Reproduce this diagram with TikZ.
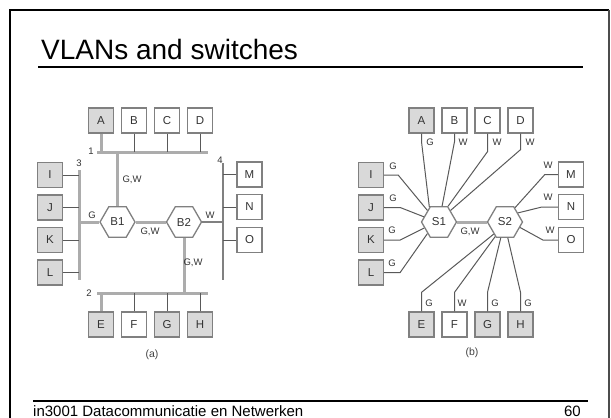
\documentclass[tikz,border=0pt]{standalone}
\usepackage{fontspec}
\setmainfont{Liberation Sans}
\usetikzlibrary{shapes.geometric}
\begin{document}
\begin{tikzpicture}[x=1pt,y=-1pt,
  hostg/.style={draw=gray,line width=1.3pt,fill=gray!30,minimum size=25pt,inner sep=0pt,font=\fontsize{11.5}{12}\selectfont,text=black!80},
  hostw/.style={hostg,fill=white},
  hexsw/.style={regular polygon,regular polygon sides=6,draw=gray,line width=1.3pt,fill=white,minimum size=35pt,inner sep=0pt,font=\fontsize{11.5}{12}\selectfont,text=black!80},
  thinln/.style={draw=black!65,line width=1pt},
  thickln/.style={draw=gray!65,line width=3pt},
  medln/.style={draw=black!50,line width=2pt},
  lbl/.style={font=\fontsize{9.5}{10}\selectfont,inner sep=0.5pt,text=black!80},
  captxt/.style={font=\fontsize{10.5}{11}\selectfont,inner sep=0pt,text=black!75},
]
\useasboundingbox (0,0) rectangle (611,418);
% slide frame
\draw[line width=2pt] (10,418) -- (10,10) -- (609,10);
\draw[line width=1.5pt,black!70] (609,10) -- (609,418);
\node[anchor=base west,font=\fontsize{28}{31}\selectfont,inner sep=0pt] (title) at (41,59.5) {VLANs and switches};
\draw[line width=1.2pt] (38,67) -- (583,67);
\draw[line width=1.5pt] (33,401) -- (588,401);
\node[anchor=base west,font=\fontsize{15}{17}\selectfont,inner sep=0pt] (foot) at (33,416) {in3001 Datacommunicatie en Netwerken};
\node[anchor=base east,font=\fontsize{15}{17}\selectfont,inner sep=0pt] (page) at (581,416) {60};

% ---------- (a) ----------
\coordinate (bus1w) at (97,152); \coordinate (bus1e) at (208,152);
\coordinate (bus2w) at (97,293); \coordinate (bus2e) at (208,293);
\coordinate (bus3n) at (79,170); \coordinate (bus3s) at (79,280);
\coordinate (bus4n) at (223,163); \coordinate (bus4s) at (223,280);
\draw[thickln] (bus1w) -- (bus1e);
\draw[thickln] (bus2w) -- (bus2e);
\draw[thickln] (bus3n) -- (bus3s);
\draw[medln] (bus4n) -- (bus4s);

\node[hostg] (aA) at (101,120.5) {A};
\node[hostw] (aB) at (134,120.5) {B};
\node[hostw] (aC) at (167,120.5) {C};
\node[hostw] (aD) at (200,120.5) {D};
\node[hostg] (aE) at (101,324.5) {E};
\node[hostw] (aF) at (134,324.5) {F};
\node[hostg] (aG) at (167,324.5) {G};
\node[hostg] (aH) at (200,324.5) {H};
\node[hostg] (aI) at (50,175) {I};
\node[hostg] (aJ) at (50,207.5) {J};
\node[hostg] (aK) at (50,240) {K};
\node[hostg] (aL) at (50,272.5) {L};
\node[hostw] (aM) at (249.5,174.5) {M};
\node[hostw] (aN) at (249.5,207) {N};
\node[hostw] (aO) at (249.5,240) {O};
\node[hexsw] (B1) at (117.5,222) {B1};
\node[hexsw] (B2) at (184,222) {B2};

\draw[thickln] (aA.south) -- (aA.south |- bus1w);
\draw[thinln] (aB.south) -- (aB.south |- bus1w);
\draw[thinln] (aC.south) -- (aC.south |- bus1w);
\draw[thinln] (aD.south) -- (aD.south |- bus1w);
\draw[thickln] (aE.north) -- (aE.north |- bus2w);
\draw[thinln] (aF.north) -- (aF.north |- bus2w);
\draw[thinln] (aG.north) -- (aG.north |- bus2w);
\draw[thinln] (aH.north) -- (aH.north |- bus2w);
\draw[thinln] (aI.east) -- (aI.east -| bus3n);
\draw[thinln] (aJ.east) -- (aJ.east -| bus3n);
\draw[thinln] (aK.east) -- (aK.east -| bus3n);
\draw[thinln] (aL.east) -- (aL.east -| bus3n);
\draw[thinln] (aM.west) -- (aM.west -| bus4n);
\draw[thinln] (aN.west) -- (aN.west -| bus4n);
\draw[thinln] (aO.west) -- (aO.west -| bus4n);
\draw[thickln] (B1.north) -- (B1.north |- bus1w);
\draw[thickln] (B1.west) -- (B1.west -| bus3n);
\draw[thickln] (B1.east) -- (B2.west);
\draw[medln] (B2.east) -- (B2.east -| bus4n);
\draw[thickln] (B2.south) -- (B2.south |- bus2w);

\node[lbl] (n1) at (91,151) {1};
\node[lbl] (n2) at (89,293) {2};
\node[lbl] (n3) at (79,163) {3};
\node[lbl] (n4) at (220,160) {4};
\node[lbl] (la1) at (132,180) {G,W};
\node[lbl] (la2) at (92,215) {G};
\node[lbl] (la3) at (150,232) {G,W};
\node[lbl] (la4) at (210,215) {W};
\node[lbl] (la5) at (193,263) {G,W};
\node[captxt] (capa) at (152,355) {(a)};

% ---------- (b) ----------
\node[hostg] (bA) at (421.5,120.5) {A};
\node[hostw] (bB) at (454.5,120.5) {B};
\node[hostw] (bC) at (487.5,120.5) {C};
\node[hostw] (bD) at (520.5,120.5) {D};
\node[hostg] (bE) at (421.5,324.5) {E};
\node[hostw] (bF) at (454.5,324.5) {F};
\node[hostg] (bG) at (487.5,324.5) {G};
\node[hostg] (bH) at (520.5,324.5) {H};
\node[hostg] (bI) at (371,175) {I};
\node[hostg] (bJ) at (371,207.5) {J};
\node[hostg] (bK) at (371,240) {K};
\node[hostg] (bL) at (371,272.5) {L};
\node[hostw] (bM) at (571,174.5) {M};
\node[hostw] (bN) at (571,207) {N};
\node[hostw] (bO) at (571,240) {O};
\node[hexsw] (S1) at (439,222) {S1};
\node[hexsw] (S2) at (505,222) {S2};

\draw[thinln] (bA.south) -- ++(0,8) -- (S1.123);
\draw[thinln] (bB.south) -- ++(0,8) -- (S1.79);
\draw[thinln] (bC.south) -- ++(0,18) -- (S1.60);
\draw[thinln] (bD.south) -- ++(0,16) -- (S1.45);
\draw[thinln] (bI.east) -- ++(14,0) -- (S1.135);
\draw[thinln] (bJ.east) -- ++(16,0) -- (S1.161);
\draw[thinln] (bK.east) -- ++(16,0) -- (S1.202);
\draw[thinln] (bL.east) -- ++(16,0) -- (S1.225);
\draw[thinln] (bM.west) -- ++(-13,0) -- (S2.55);
\draw[thinln] (bN.west) -- ++(-16,0) -- (S2.35);
\draw[thinln] (bO.west) -- ++(-15,0) -- (S2.340);
\draw[thinln] (bE.north) -- ++(0,-19) -- (S2.227);
\draw[thinln] (bF.north) -- ++(0,-19) -- (S2.236);
\draw[thinln] (bG.north) -- ++(0,-19) -- (S2.255);
\draw[thinln] (bH.north) -- ++(0,-19) -- (S2.280);
\draw[thickln] (S1.east) -- (S2.west);

\node[lbl] (lbA) at (430,142) {G};
\node[lbl] (lbB) at (463,142) {W};
\node[lbl] (lbC) at (497,142) {W};
\node[lbl] (lbD) at (530,142) {W};
\node[lbl] (lbI) at (393,166) {G};
\node[lbl] (lbJ) at (393,198) {G};
\node[lbl] (lbK) at (392,230) {G};
\node[lbl] (lbL) at (392,263) {G};
\node[lbl] (lbM) at (548,165) {W};
\node[lbl] (lbN) at (548,197) {W};
\node[lbl] (lbO) at (550,230) {W};
\node[lbl] (lbE) at (429,303) {G};
\node[lbl] (lbF) at (462,303) {W};
\node[lbl] (lbG) at (495,303) {G};
\node[lbl] (lbH) at (528,303) {G};
\node[lbl] (lbS) at (470,232) {G,W};
\node[captxt] (capb) at (472,353) {(b)};
\end{tikzpicture}
\end{document}
